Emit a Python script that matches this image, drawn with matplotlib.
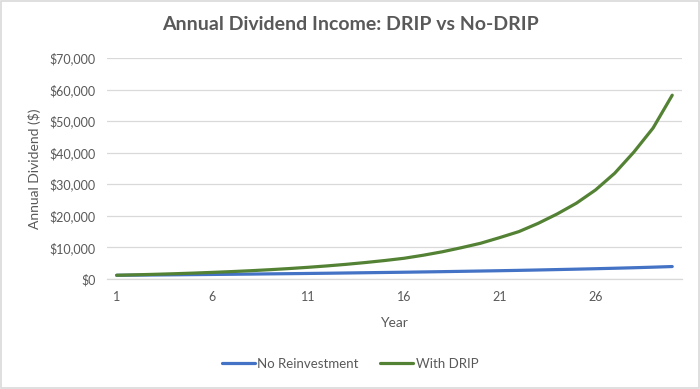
import matplotlib
matplotlib.use("Agg")
import matplotlib.pyplot as plt
from matplotlib.patches import Rectangle
from matplotlib.ticker import FuncFormatter

plt.rcParams['font.family'] = ['Lato', 'DejaVu Sans']

# Data
years = list(range(1, 31))
no_reinvestment = [1150, 1200, 1250, 1300, 1360, 1410, 1470, 1530, 1600, 1660,
                   1730, 1800, 1880, 1960, 2040, 2120, 2210, 2300, 2400, 2500,
                   2600, 2710, 2830, 2960, 3090, 3230, 3380, 3540, 3720, 3920]
with_drip = [1150, 1300, 1460, 1640, 1840, 2070, 2320, 2600, 2920, 3280,
             3680, 4130, 4630, 5200, 5830, 6540, 7500, 8600, 9900, 11300,
             13100, 15000, 17600, 20600, 24000, 28200, 33500, 40200, 47800, 58200]
tick_years = [1, 6, 11, 16, 21, 26]

grey = '#595959'

fig = plt.figure(figsize=(7, 3.89), dpi=100)
ax = fig.add_axes([0.153, 0.283, 0.821, 0.568])

ax.plot(years, no_reinvestment, color='#4472C4', linewidth=2.3,
        label='No Reinvestment', solid_capstyle='round')
ax.plot(years, with_drip, color='#548235', linewidth=2.3,
        label='With DRIP', solid_capstyle='round')

ax.set_xlim(0.5, 30.5)
ax.set_ylim(0, 70000)
ax.set_yticks(range(0, 70001, 10000))
ax.set_xticks(tick_years)
ax.yaxis.set_major_formatter(FuncFormatter(lambda v, p: f'${v:,.0f}'))
ax.grid(axis='y', color='#d9d9d9', linewidth=0.9)
ax.set_axisbelow(True)
for s in ['top', 'right', 'left']:
    ax.spines[s].set_visible(False)
ax.spines['bottom'].set_color('#d9d9d9')
ax.spines['bottom'].set_linewidth(0.9)
ax.tick_params(axis='both', length=0, colors=grey, labelsize=9)
ax.tick_params(axis='x', pad=9)
ax.tick_params(axis='y', pad=8)

ax.set_xlabel('Year', color=grey, fontsize=10, labelpad=10)
ax.set_ylabel('Annual Dividend ($)', color=grey, fontsize=10, labelpad=6)

fig.text(0.5, 0.938, 'Annual Dividend Income: DRIP vs No-DRIP', ha='center',
         va='center', fontsize=14, fontweight='bold', color=grey)

fig.legend(loc='center', bbox_to_anchor=(0.5, 0.064), ncol=2, frameon=False,
           fontsize=9.5, labelcolor=grey, handlelength=2.5, handletextpad=0.2,
           columnspacing=1.6)

fig.patches.append(Rectangle((0.002, 0.003), 0.996, 0.994, transform=fig.transFigure,
                             fill=False, edgecolor='#d9d9d9', linewidth=1.2))

fig.savefig('out.png', dpi=100)
